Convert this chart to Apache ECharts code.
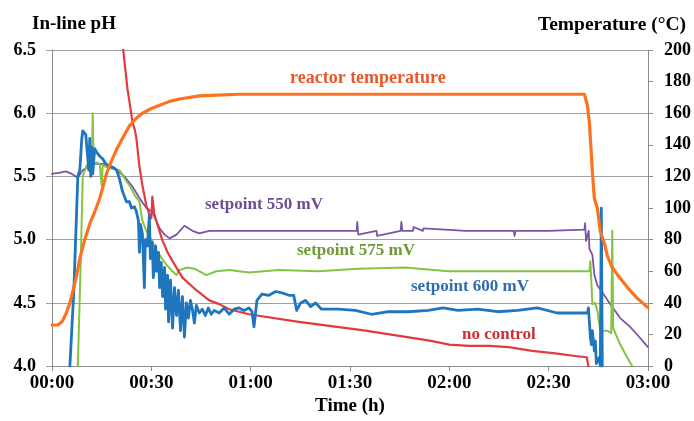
<!DOCTYPE html>
<html>
<head>
<meta charset="utf-8">
<script src="https://cdn.jsdelivr.net/npm/echarts@6/dist/echarts.min.js"></script>
<style>
html,body{margin:0;padding:0;background:#fff;}
#c{width:694px;height:421px;}
</style>
</head>
<body>
<div id="c"></div>
<script>
// ---- data (time in minutes) ----
const xTicks = ['00:00','00:30','01:00','01:30','02:00','02:30','03:00'];

const tempT = [0,1.8,3,4.2,5.4,6.6,7.5,8.4,9.9,11.4,13,14.4,16.5,18,19.5,21.5,23.4,25.5,27.3,30,32.5,35.5,38.5,44.5,50,56.5,100,140,160.8,161.7,162.3,163.2,163.8,164.7,165.6,166.8,167.7,169,170.7,173.7,176.7,180];
const tempV = [26,26,28,33,40,50,58,68,80,90,98,106,122,130,137,145,152,157,160,163,165,167.5,169,171,171.5,172,172,172,172,165,154,123,106,100,85,78,70,63,58,50,43,37];

const sp550T = [0,2.4,4.2,6,7.8,9.3,11.4,12.9,15.9,18.9,21.9,24.3,26.4,28.5,30.3,32.5,34,35.5,37.6,40,42.4,44.5,47.5,59.5,75,92,92.2,92.5,98,98.2,105.3,105.5,105.8,109,109.2,112,112.2,125,139.5,139.7,140,150,160.8,161,161.3,162.1,162.3,163.2,163.8,164.7,166.8,168.6,171.6,174.6,176.7,180];
const sp550V = [5.52,5.53,5.54,5.52,5.49,5.55,5.58,5.6,5.6,5.56,5.5,5.42,5.33,5.25,5.22,5.09,5.04,5.01,5.04,5.11,5.07,5.05,5.07,5.07,5.07,5.07,5.14,5.04,5.07,5.03,5.07,5.14,5.07,5.07,5.1,5.07,5.09,5.07,5.07,5.03,5.07,5.07,5.08,5.13,4.99,5.07,4.93,4.88,4.72,4.64,4.56,4.49,4.38,4.31,4.25,4.15];

const sp575T = [7.8,8.7,9.3,10.5,11.4,12,12.3,12.6,13.5,14.4,15,15.3,16.8,18.3,20.4,22.5,23.4,25,26.4,27.3,28.5,30,31.6,33,34.6,36,37.6,38.5,40.9,43,46.6,49.6,53.5,59.5,68.5,80.5,92.5,106.7,119.6,134.6,152.6,162.3,162.6,163.2,164,164.7,165.3,165.6,167.7,168.9,169.2,169.5,169.8,171.6,173.7,175.2];
const sp575V = [4.0,4.85,5.5,5.59,5.6,5.58,6.0,5.6,5.61,5.6,5.43,5.59,5.57,5.56,5.55,5.46,5.43,5.35,5.3,5.15,5.07,5.0,4.91,4.86,4.8,4.76,4.72,4.76,4.78,4.77,4.72,4.75,4.76,4.74,4.76,4.75,4.77,4.78,4.75,4.75,4.75,4.75,4.83,4.49,4.5,4.44,4.33,4.28,4.28,4.26,5.07,4.3,4.28,4.17,4.07,4.0];

const sp600T = [5.4,6.6,7.8,8.4,9,9.3,10.2,10.8,11.1,11.4,11.7,12,12.3,12.9,13.5,14.4,15.3,16.2,17.4,18.6,19.5,20.4,21.3,22.5,23.4,24,24.9,25.5,26.1,26.4,26.7,27.3,27.9,28.2,28.8,29.4,29.7,30.3,30.6,31.3,31.6,32.2,32.5,33,33.4,34,34.3,34.9,35.2,35.8,36.4,37,37.6,38.2,38.8,39.4,40,40.6,41.2,41.8,42.4,43,43.6,44.5,45.4,46.3,47.2,48.1,49,50.5,52,53.5,55,56.5,58,59.5,60.4,61,61.9,63.4,65.5,67.6,69.4,71.5,73,73.9,75.1,76.6,78.1,79.6,81.4,86.5,91.6,96.5,101.6,107.6,113.6,118.1,122.6,128.6,134.6,140.6,146.6,152.6,158.7,161.7,162,162.6,162.9,163.2,163.8,164.1,164.4,165.3,165.6,165.9,166.2];
const sp600V = [4.0,4.6,5.5,5.55,5.8,5.86,5.83,5.84,5.55,5.8,5.5,5.73,5.52,5.72,5.69,5.66,5.64,5.6,5.58,5.57,5.55,5.48,5.38,5.3,5.3,5.25,5.26,5.22,5.15,4.9,5.12,5.05,4.62,5.0,4.95,5.19,4.85,4.98,4.7,4.95,4.75,4.9,4.62,4.82,4.55,4.78,4.45,4.72,4.35,4.68,4.3,4.62,4.4,4.6,4.28,4.55,4.23,4.5,4.38,4.52,4.45,4.34,4.48,4.42,4.45,4.4,4.46,4.41,4.44,4.42,4.46,4.41,4.45,4.46,4.44,4.46,4.43,4.31,4.52,4.57,4.56,4.59,4.58,4.56,4.56,4.44,4.5,4.52,4.47,4.5,4.45,4.45,4.44,4.41,4.43,4.43,4.44,4.46,4.44,4.45,4.43,4.44,4.46,4.42,4.42,4.42,4.46,4.23,4.17,4.28,4.12,4.2,4.02,4.07,4.0,5.25,4.0];

const noCtrlT = [21.3,22.8,23.4,24.3,25,25.5,26.4,27.3,28.5,29.4,30,30.3,30.9,31.6,33.4,34.9,36.4,39.4,43.6,47.5,50.5,53.5,59.5,74.5,94.7,114.5,120,126,132,138,145,152,158,161.5,162];
const noCtrlV = [6.55,6.19,6.09,5.93,5.87,5.8,5.58,5.43,5.27,5.2,5.17,5.34,5.2,5.14,4.99,4.9,4.83,4.7,4.6,4.52,4.49,4.45,4.41,4.35,4.28,4.2,4.17,4.16,4.16,4.15,4.12,4.1,4.08,4.07,4.0];

const zip = (t, v) => t.map((x, i) => [x, v[i]]);

const serif = '"Liberation Serif","Times New Roman",serif';
const chart = echarts.init(document.getElementById('c'));

function lineSeries(name, t, v, color, width, yIdx, z) {
  return {
    name, type: 'line', data: zip(t, v), yAxisIndex: yIdx,
    showSymbol: false, symbol: 'none', smooth: false, z,
    lineStyle: { color, width, join: 'round', cap: 'round' }, itemStyle: { color },
    clip: true, animation: false
  };
}

chart.setOption({
  animation: false,
  backgroundColor: '#fff',
  grid: { left: 52, right: 43, top: 50, bottom: 52, containLabel: false },
  xAxis: {
    type: 'value', min: 0, max: 180, interval: 30,
    name: 'Time (h)', nameLocation: 'middle', nameGap: 30,
    nameTextStyle: { fontFamily: serif, fontWeight: 'bold', fontSize: 19, color: '#000' },
    axisLine: { show: true, lineStyle: { color: '#8c8c8c', width: 1 } },
    axisTick: { show: true, length: 5, lineStyle: { color: '#8c8c8c' } },
    splitLine: { show: false },
    axisLabel: {
      fontFamily: serif, fontWeight: 'bold', fontSize: 19, color: '#000', margin: 7,
      formatter: v => xTicks[Math.round(v / 30)]
    }
  },
  yAxis: [{
    type: 'value', min: 4, max: 6.5, interval: 0.5, position: 'left',
    axisLine: { show: true, lineStyle: { color: '#8c8c8c', width: 1 } },
    axisTick: { show: true, length: 6, lineStyle: { color: '#a0a0a0' } },
    splitLine: { show: true, lineStyle: { color: '#a0a0a0', width: 1 } },
    axisLabel: { fontFamily: serif, fontWeight: 'bold', fontSize: 18, color: '#000', margin: 16,
      formatter: v => v.toFixed(1) }
  }, {
    type: 'value', min: 0, max: 200, interval: 20, position: 'right',
    axisLine: { show: true, lineStyle: { color: '#8c8c8c', width: 1 } },
    axisTick: { show: true, length: 5, lineStyle: { color: '#8c8c8c' } },
    splitLine: { show: false },
    axisLabel: { fontFamily: serif, fontWeight: 'bold', fontSize: 18, color: '#000', margin: 16 }
  }],
  graphic: [
    { type: 'text', left: 32, top: 15, style: { text: 'In-line pH', font: 'bold 19px ' + serif, fill: '#000' } },
    { type: 'text', left: 538, top: 15, style: { text: 'Temperature (°C)', font: 'bold 19.5px ' + serif, fill: '#000' } },
    { type: 'text', left: 290, top: 69, style: { text: 'reactor temperature', font: 'bold 18px ' + serif, fill: '#e8582a' } },
    { type: 'text', left: 205, top: 196, style: { text: 'setpoint 550 mV', font: 'bold 17px ' + serif, fill: '#6b4f96' } },
    { type: 'text', left: 297, top: 242, style: { text: 'setpoint 575 mV', font: 'bold 17px ' + serif, fill: '#6e9a36' } },
    { type: 'text', left: 411, top: 278, style: { text: 'setpoint 600 mV', font: 'bold 17px ' + serif, fill: '#2f6dae' } },
    { type: 'text', left: 462, top: 326, style: { text: 'no control', font: 'bold 17px ' + serif, fill: '#cf2f38' } }
  ],
  series: [
    lineSeries('setpoint 550 mV', sp550T, sp550V, '#7a55a3', 1.8, 0, 2),
    lineSeries('setpoint 575 mV', sp575T, sp575V, '#84c443', 2, 0, 3),
    lineSeries('no control', noCtrlT, noCtrlV, '#e23b3f', 2.2, 0, 4),
    lineSeries('setpoint 600 mV', sp600T, sp600V, '#1f76bf', 2.8, 0, 5),
    lineSeries('reactor temperature', tempT, tempV, '#fb7320', 3.2, 1, 6)
  ]
});
</script>
</body>
</html>
